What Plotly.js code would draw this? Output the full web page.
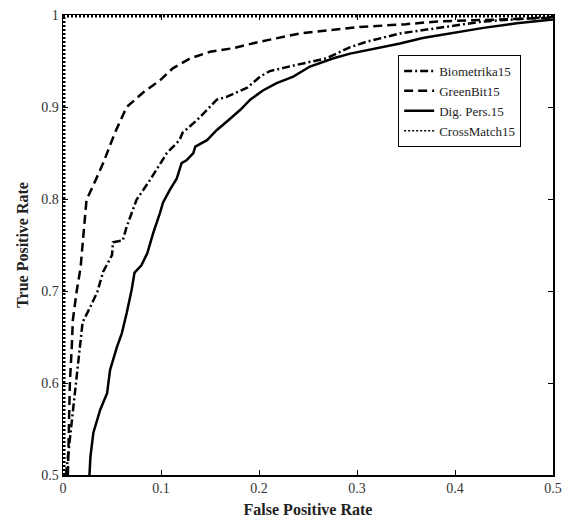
<!DOCTYPE html>
<html><head><meta charset="utf-8">
<script src="https://cdn.plot.ly/plotly-3.0.1.min.js"></script>
<style>html,body{margin:0;padding:0;background:#fff}#chart{width:575px;height:524px}</style>
</head><body><div id="chart"></div>
<script>
const seriesNames = ["Biometrika15", "GreenBit15", "Dig. Pers.15", "CrossMatch15"];

const bioX = [0.003,0.006,0.009,0.014,0.017,0.02,0.028,0.035,0.041,0.05,0.051,0.061,0.065,0.075,0.089,0.106,0.119,0.122,0.137,0.147,0.157,0.167,0.188,0.201,0.211,0.235,0.249,0.269,0.293,0.31,0.344,0.388,0.429,0.5];
const bioY = [0.5,0.53,0.557,0.603,0.639,0.666,0.683,0.699,0.721,0.739,0.753,0.755,0.77,0.799,0.821,0.85,0.864,0.872,0.886,0.897,0.908,0.911,0.921,0.933,0.939,0.945,0.948,0.953,0.965,0.971,0.98,0.987,0.993,0.998];

const gbX = [0.005,0.006,0.007,0.009,0.01,0.014,0.018,0.021,0.024,0.031,0.041,0.053,0.065,0.082,0.099,0.112,0.13,0.15,0.174,0.201,0.242,0.303,0.35,0.382,0.44,0.5];
const gbY = [0.5,0.55,0.6,0.64,0.668,0.7,0.726,0.763,0.799,0.815,0.839,0.872,0.9,0.916,0.929,0.942,0.953,0.96,0.964,0.971,0.98,0.987,0.99,0.993,0.995,0.997];

const dpX = [0.027,0.028,0.031,0.038,0.045,0.048,0.055,0.06,0.065,0.07,0.073,0.08,0.086,0.092,0.099,0.102,0.109,0.116,0.121,0.126,0.133,0.135,0.147,0.157,0.167,0.181,0.191,0.204,0.218,0.235,0.252,0.276,0.293,0.32,0.344,0.367,0.395,0.429,0.463,0.5];
const dpY = [0.5,0.52,0.546,0.571,0.589,0.614,0.639,0.654,0.676,0.701,0.72,0.728,0.741,0.763,0.785,0.796,0.81,0.822,0.839,0.842,0.85,0.857,0.864,0.875,0.884,0.897,0.908,0.918,0.926,0.933,0.944,0.953,0.958,0.964,0.969,0.975,0.98,0.986,0.991,0.995];

const cmX = [0, 0, 0.5];
const cmY = [0, 1, 1];

const xTicks = [0, 0.1, 0.2, 0.3, 0.4, 0.5];
const yTicks = [0.5, 0.6, 0.7, 0.8, 0.9, 1];

const traces = [
  {x: bioX, y: bioY, name: seriesNames[0], mode: "lines", line: {color: "#000", width: 2.5, dash: "8px,3px,2px,3px"}},
  {x: gbX, y: gbY, name: seriesNames[1], mode: "lines", line: {color: "#000", width: 2.5, dash: "9px,5px"}},
  {x: dpX, y: dpY, name: seriesNames[2], mode: "lines", line: {color: "#000", width: 2.5}},
  {x: cmX, y: cmY, name: seriesNames[3], mode: "lines", legendgroup: "cm", showlegend: false, line: {color: "#000", width: 5, dash: "2px,2px"}},
  {x: cmX, y: cmY, name: seriesNames[3], mode: "lines", legendgroup: "cm", line: {color: "#000", width: 1.5, dash: "2px,2px"}}
];

const fontFam = "Liberation Serif, Times New Roman, serif";
const axisCommon = {
  showgrid: false, zeroline: false, showline: true, linecolor: "#000", linewidth: 1.5,
  mirror: "ticks", ticks: "inside", ticklen: 5, tickwidth: 1, tickcolor: "#000",
  tickfont: {family: fontFam, size: 14, color: "#333"}, layer: "below traces"
};

const layout = {
  width: 575, height: 524,
  margin: {l: 63, r: 22, t: 15, b: 49},
  paper_bgcolor: "#fff", plot_bgcolor: "#fff",
  showlegend: true,
  legend: {x: 0.684, y: 0.913, xanchor: "left", yanchor: "top", bgcolor: "#fff",
    bordercolor: "#000", borderwidth: 1, font: {family: fontFam, size: 13, color: "#222"},
    tracegroupgap: 0, itemwidth: 30, entrywidth: 92},
  xaxis: Object.assign({}, axisCommon, {range: [0, 0.5], tickvals: xTicks, ticktext: xTicks.map(String),
    title: {text: "<b>False Positive Rate</b>", font: {family: fontFam, size: 16, color: "#222"}, standoff: 8}}),
  yaxis: Object.assign({}, axisCommon, {range: [0.5, 1], tickvals: yTicks, ticktext: yTicks.map(String),
    title: {text: "<b>True Positive Rate</b>", font: {family: fontFam, size: 16, color: "#222"}, standoff: 8}})
};

Plotly.newPlot("chart", traces, layout, {staticPlot: true});
</script></body></html>
